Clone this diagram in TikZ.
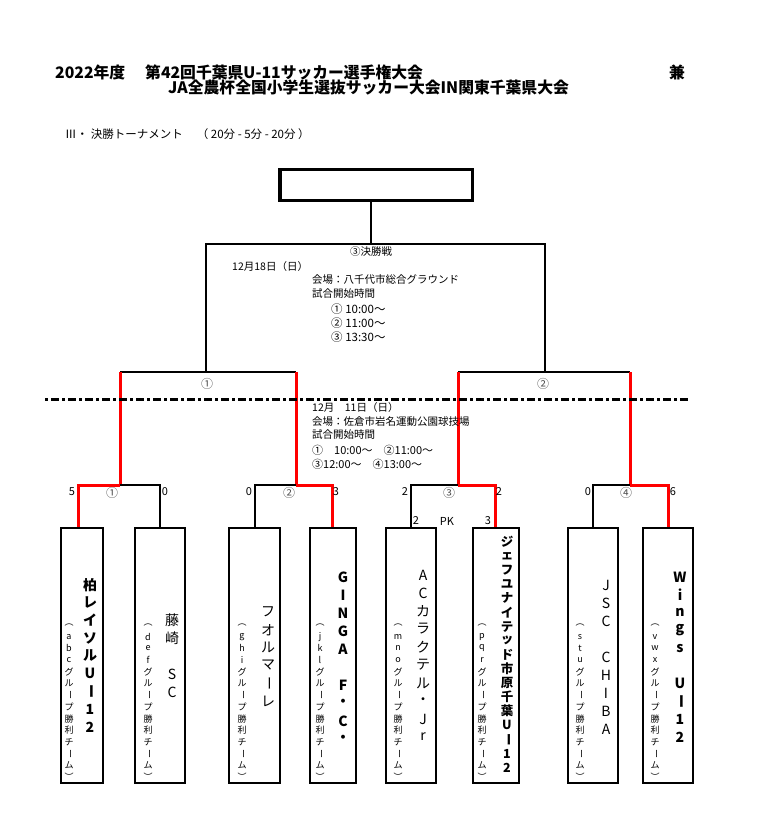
\documentclass[tikz,border=0pt]{standalone}
\usepackage{fontspec}
\usepackage{graphicx}
\newfontfamily\jp{Noto Sans CJK JP}
\newcommand\rb{\rotatebox[origin=c]{-90}{ー}}
\newcommand\vcol[5]{\foreach \c [count=\i from 0] in {#5} {\node[inner sep=0pt] (#1\i) at (#2,{#3+#4*\i}) {\c};}}
\begin{document}
\begin{tikzpicture}[x=1pt,y=-1pt,
  bl/.style={line width=2.5pt, black},
  rd/.style={line width=3pt, red},
  teambox/.style={draw, line width=2.5pt, minimum height=255pt, inner sep=0pt},
  hd/.style={font=\jp\bfseries\fontsize{15.8}{15.8}\selectfont, inner sep=0pt},
  txt/.style={font=\jp\fontsize{10.5}{10.5}\selectfont, inner sep=0pt, anchor=west},
  tm/.style={font=\jp\fontsize{11.5}{11.5}\selectfont, inner sep=0pt, anchor=west},
  sc/.style={font=\jp\fontsize{11}{11}\selectfont, inner sep=0pt},
  cn/.style={font=\jp\fontsize{12}{12}\selectfont, inner sep=0pt, text=black!70},
  mainn/.style={font=\jp\fontsize{14}{14}\selectfont},
  mainb/.style={font=\jp\bfseries\fontsize{14}{14}\selectfont},
  subn/.style={font=\jp\fontsize{9}{9}\selectfont}]
\useasboundingbox (0,0) rectangle (756,821);
% header
\node[hd, anchor=west] (h1) at (55,72) {2022年度};
\node[hd, anchor=west] (h2) at (145,72) {第42回千葉県U-11サッカー選手権大会};
\node[hd] (h3) at (677,72) {兼};
\node[hd, anchor=west] (h4) at (168,88) {JA全農杯全国小学生選抜サッカー大会IN関東千葉県大会};
\node[txt, font=\jp\fontsize{11.5}{11.5}\selectfont] (sub) at (65,134) {Ⅲ・ 決勝トーナメント　 （ 20分 - 5分 - 20分 ）};
% final box
\node[draw, line width=3.5pt, minimum width=192.5pt, minimum height=30.5pt, inner sep=0pt] (final) at (376,185) {};
\coordinate (f0) at (371,244);
\coordinate (fL) at (206,244);
\coordinate (fR) at (545,244);
\coordinate (s1) at (206,372);
\coordinate (s1L) at (120,372);
\coordinate (s1R) at (296,372);
\coordinate (s2) at (545,372);
\coordinate (s2L) at (458,372);
\coordinate (s2R) at (630,372);
\coordinate (q1) at (120,485);
\coordinate (q1L) at (78,485);
\coordinate (q1R) at (160,485);
\coordinate (q2) at (296,485);
\coordinate (q2L) at (255,485);
\coordinate (q2R) at (332,485);
\coordinate (q3) at (458,485);
\coordinate (q3L) at (411,485);
\coordinate (q3R) at (495,485);
\coordinate (q4) at (630,485);
\coordinate (q4L) at (593,485);
\coordinate (q4R) at (668,485);
% teams
\node[teambox, minimum width=42pt] (t1) at (82,655.5) {};
\node[teambox, minimum width=50pt] (t2) at (160,655.5) {};
\node[teambox, minimum width=51pt] (t3) at (254.5,655.5) {};
\node[teambox, minimum width=46pt] (t4) at (333,655.5) {};
\node[teambox, minimum width=50pt] (t5) at (411,655.5) {};
\node[teambox, minimum width=46pt] (t6) at (496,655.5) {};
\node[teambox, minimum width=50pt] (t7) at (593,655.5) {};
\node[teambox, minimum width=50pt] (t8) at (668,655.5) {};
% final lines
\draw[bl] (final.south -| f0) -- (f0);
\draw[bl] (s1) -- (fL) -- (fR) -- (s2);
\draw[bl] (s1L) -- (s1R);
\draw[bl] (s2L) -- (s2R);
\draw[rd] (s1L) -- (q1);
\draw[rd] (s1R) -- (q2);
\draw[rd] (s2L) -- (q3);
\draw[rd] (s2R) -- (q4);
% quarter finals
\draw[bl] (q1) -- (q1R) -- (t2.north -| q1R);
\draw[rd] (t1.north -| q1L) -- (q1L) -- (q1);
\draw[bl] (t3.north -| q2L) -- (q2L) -- (q2);
\draw[rd] (q2) -- (q2R) -- (t4.north -| q2R);
\draw[bl] (t5.north -| q3L) -- (q3L) -- (q3);
\draw[rd] (q3) -- (q3R) -- (t6.north -| q3R);
\draw[bl] (t7.north -| q4L) -- (q4L) -- (q4);
\draw[rd] (q4) -- (q4R) -- (t8.north -| q4R);
% dash-dot line
\coordinate (dl) at (45,399);
\coordinate (dr) at (690,399);
\draw[line width=3pt, dash pattern=on 3pt off 3pt on 8pt off 3pt] (dl) -- (dr);
% final texts
\node[txt, anchor=center] (ft) at (371,252) {③決勝戦};
\node[txt] (fd) at (232,267) {12月18日（日）};
\node[txt] (fv) at (312,280) {会場：八千代市総合グラウンド};
\node[txt] (fs) at (312,294) {試合開始時間};
\node[tm] (f1) at (331,309) {① 10:00〜};
\node[tm] (f2) at (331,323) {② 11:00〜};
\node[tm] (f3) at (331,337) {③ 13:30〜};
\node[cn] (sn1) at (207,384) {①};
\node[cn] (sn2) at (543,384) {②};
% semi texts
\node[txt] (ld) at (312,408) {12月　11日（日）};
\node[txt] (lv) at (312,422) {会場：佐倉市岩名運動公園球技場};
\node[txt] (ls) at (312,435) {試合開始時間};
\node[tm, font=\jp\fontsize{11}{11}\selectfont] (l1) at (312,450) {①　10:00〜　②11:00〜};
\node[tm, font=\jp\fontsize{11}{11}\selectfont] (l2) at (312,464) {③12:00〜　④13:00〜};
% scores
\node[sc] (a1) at (72,492) {5};
\node[cn] (qn1) at (112,493) {①};
\node[sc] (b1) at (165,492) {0};
\node[sc] (a2) at (249,492) {0};
\node[cn] (qn2) at (289,493) {②};
\node[sc] (b2) at (336,492) {3};
\node[sc] (a3) at (405,492) {2};
\node[cn] (qn3) at (449,493) {③};
\node[sc] (b3) at (499,492) {2};
\node[sc] (a4) at (588,492) {0};
\node[cn] (qn4) at (626,493) {④};
\node[sc] (b4) at (673,492) {6};
\node[sc] (pka) at (416,521) {2};
\node[sc] (pk) at (447,521) {PK};
\node[sc] (pkb) at (488,521) {3};
% team names
\begin{scope}[mainb]
\vcol{n1}{90}{585}{17.75}{柏,レ,イ,ソ,ル,U,\rb,1,2}
\vcol{n4}{343}{577}{18}{G,I,N,G,A,{},F,・,C,・}
\vcol{n8}{680}{577}{17.8}{W,i,n,g,s,{},U,\rb,1,2}
\end{scope}
\begin{scope}[font=\jp\bfseries\fontsize{12.5}{12.5}\selectfont]
\vcol{n6}{507}{542}{14.1}{ジ,ェ,フ,ユ,ナ,イ,テ,ッ,ド,市,原,千,葉,U,\rb,1,2}
\end{scope}
\begin{scope}[mainn]
\vcol{n2}{172}{620}{18}{藤,崎,{},S,C}
\vcol{n3}{268}{612}{17.8}{フ,オ,ル,マ,\rb,レ}
\vcol{n5}{423}{575}{18}{A,C,カ,ラ,ク,テ,ル,・,J,r}
\vcol{n7}{606}{585}{18}{J,S,C,{},C,H,I,B,A}
\end{scope}
\begin{scope}[subn]
\vcol{g1}{69}{625}{11.7}{︵,a,b,c,グ,ル,\rb,プ,勝,利,チ,\rb,ム,︶}
\vcol{g2}{148}{625}{11.7}{︵,d,e,f,グ,ル,\rb,プ,勝,利,チ,\rb,ム,︶}
\vcol{g3}{242}{625}{11.7}{︵,g,h,i,グ,ル,\rb,プ,勝,利,チ,\rb,ム,︶}
\vcol{g4}{320}{625}{11.7}{︵,j,k,l,グ,ル,\rb,プ,勝,利,チ,\rb,ム,︶}
\vcol{g5}{398}{625}{11.7}{︵,m,n,o,グ,ル,\rb,プ,勝,利,チ,\rb,ム,︶}
\vcol{g6}{482}{625}{11.7}{︵,p,q,r,グ,ル,\rb,プ,勝,利,チ,\rb,ム,︶}
\vcol{g7}{580}{625}{11.7}{︵,s,t,u,グ,ル,\rb,プ,勝,利,チ,\rb,ム,︶}
\vcol{g8}{655}{625}{11.7}{︵,v,w,x,グ,ル,\rb,プ,勝,利,チ,\rb,ム,︶}
\end{scope}
\end{tikzpicture}
\end{document}
